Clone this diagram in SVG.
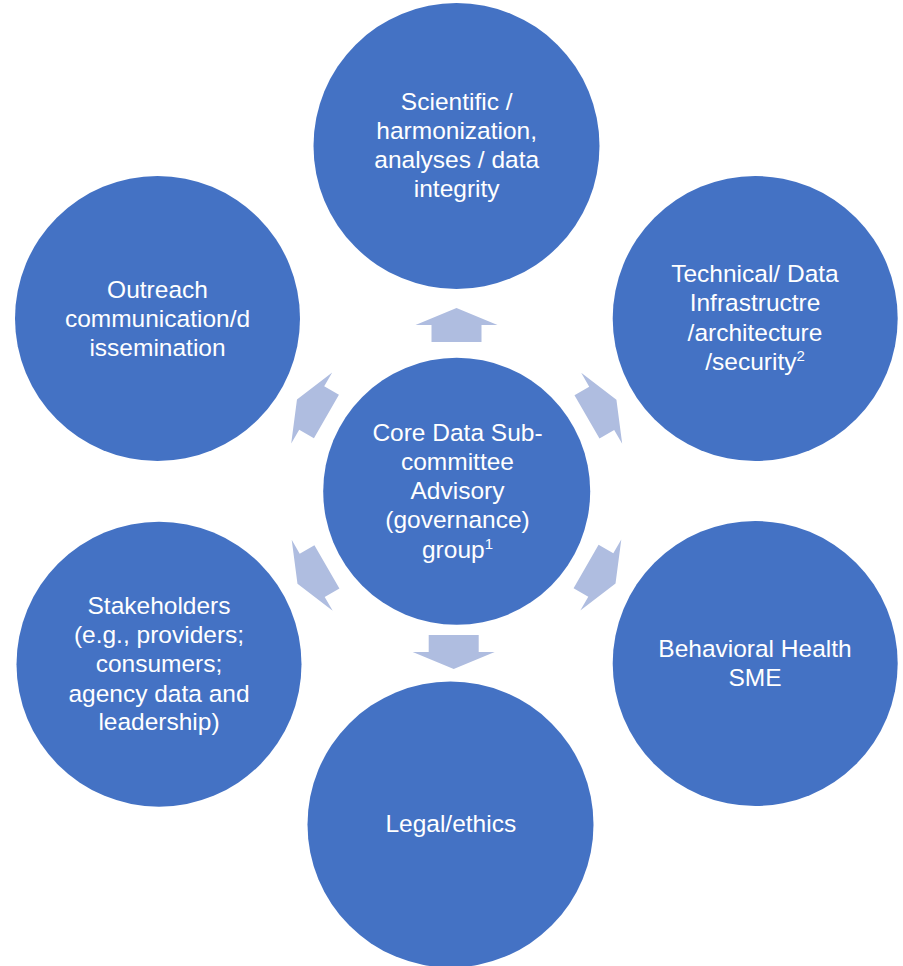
<svg xmlns="http://www.w3.org/2000/svg" width="903" height="966" viewBox="0 0 903 966">
<style>
.node{fill:#4472C4;}
.lbl{fill:#FFFFFF;font-family:"Liberation Sans",Arial,sans-serif;font-size:24.5px;text-anchor:middle;}
.sup{font-size:15px;}
.arr{fill:#AFBDE0;}
</style>
<defs>
<path id="arrow" d="M17,0 L0,-41 L0,-25 L-17,-25 L-17,25 L0,25 L0,41 Z"/>
</defs>
<rect width="903" height="966" fill="#FFFFFF"/>
<g id="connectors" class="arr">
<use href="#arrow" transform="translate(456.5,325) rotate(-90)"/>
<use href="#arrow" transform="translate(601.7,408.3) rotate(-30)"/>
<use href="#arrow" transform="translate(600.8,575) rotate(30)"/>
<use href="#arrow" transform="translate(453.7,652) rotate(90)"/>
<use href="#arrow" transform="translate(312.2,575.3) rotate(150)"/>
<use href="#arrow" transform="translate(311.7,408) rotate(-150)"/>
</g>
<g id="node-center">
<circle class="node" cx="456.7" cy="491.3" r="133.5"/>
<text class="lbl"><tspan x="457.5" y="440.7">Core Data Sub-</tspan><tspan x="457.5" y="470">committee</tspan><tspan x="457.5" y="499">Advisory</tspan><tspan x="457.5" y="528.3">(governance)</tspan><tspan x="457.5" y="558.3">group<tspan class="sup" dy="-9">1</tspan></tspan></text>
</g>
<g id="node-scientific">
<circle class="node" cx="456.5" cy="146" r="143"/>
<text class="lbl"><tspan x="456.7" y="110">Scientific /</tspan><tspan x="456.7" y="139">harmonization,</tspan><tspan x="456.7" y="168">analyses / data</tspan><tspan x="456.7" y="197">integrity</tspan></text>
</g>
<g id="node-technical">
<circle class="node" cx="755.2" cy="318.5" r="142.5"/>
<text class="lbl"><tspan x="755" y="281.7">Technical/ Data</tspan><tspan x="755" y="311">Infrastructre</tspan><tspan x="755" y="340.7">/architecture</tspan><tspan x="755" y="370">/security<tspan class="sup" dy="-9">2</tspan></tspan></text>
</g>
<g id="node-behavioral">
<circle class="node" cx="755.2" cy="663.5" r="142.5"/>
<text class="lbl"><tspan x="755" y="656.7">Behavioral Health</tspan><tspan x="755" y="685.7">SME</tspan></text>
</g>
<g id="node-legal">
<circle class="node" cx="450.5" cy="824.5" r="143"/>
<text class="lbl"><tspan x="450.8" y="831.7">Legal/ethics</tspan></text>
</g>
<g id="node-stakeholders">
<circle class="node" cx="159" cy="664.2" r="142.5"/>
<text class="lbl"><tspan x="159" y="614">Stakeholders</tspan><tspan x="159" y="643.3">(e.g., providers;</tspan><tspan x="159" y="672.3">consumers;</tspan><tspan x="159" y="701.7">agency data and</tspan><tspan x="159" y="730">leadership)</tspan></text>
</g>
<g id="node-outreach">
<circle class="node" cx="157.5" cy="318.5" r="142.5"/>
<text class="lbl"><tspan x="157.5" y="298">Outreach</tspan><tspan x="157.5" y="327">communication/d</tspan><tspan x="157.5" y="356">issemination</tspan></text>
</g>
</svg>
